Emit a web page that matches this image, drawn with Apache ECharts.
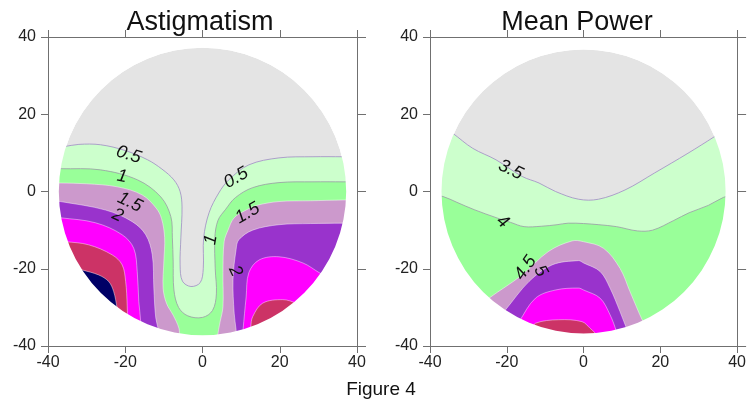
<!DOCTYPE html>
<html>
<head>
<meta charset="utf-8">
<script src="https://cdn.jsdelivr.net/npm/echarts@6/dist/echarts.min.js"></script>
<style>
  html, body { margin: 0; padding: 0; background: #fff; }
  #chart { width: 749px; height: 403px; }
</style>
</head>
<body>
<div id="chart"></div>
<script>
// contour levels and band colours (band k sits between level k-1 and level k)
const astigLevels = [0.5, 1, 1.5, 2, 2.5, 3, 3.5];
const powerLevels = [3.5, 4, 4.5, 5, 5.5, 6];
const bandColors = ['#e4e4e4', '#ccffcc', '#99ff99', '#cc99cc', '#9933cc', '#ff00ff', '#cc3366', '#000066'];

// contour lines, [x, y] in mm, higher side on the left of travel
const astig05 = [[38, 9], [36.4, 9], [28.6, 9], [19.8, 8.7], [12, 6.9], [6.8, 3], [4.2, -0.4], [1.7, -5.5], [0.3, -12], [0.2, -20], [-0.6, -23.6], [-3, -24.6], [-5.2, -23.2], [-5.8, -19], [-5.6, -12], [-5.3, -4], [-5.8, 0], [-7.4, 3], [-10.5, 5.8], [-14.2, 8.2], [-20, 10.6], [-26.4, 12.1], [-32, 12.2], [-36, 11.6], [-38, 11.5]];
const astig10 = [[39, 2.5], [36.4, 2.5], [28.6, 2.5], [19.8, 2.3], [13, 1], [8.5, -1.6], [6, -4.6], [4, -7.5], [3.2, -12], [3.3, -20], [3.6, -26.5], [2.6, -30.8], [0, -32.6], [-3.8, -32.2], [-6.2, -30], [-7.4, -25.5], [-7.6, -18], [-7.8, -12], [-8.2, -6.5], [-10.8, -1.4], [-16.8, 3], [-26.4, 5.6], [-36.8, 5.9], [-39, 5.9]];
const astig15L = [[-6, -37.5], [-6.1, -35.4], [-7.6, -32], [-9.3, -29], [-10.2, -25], [-10, -18], [-9.8, -12], [-10.6, -7], [-12, -4.3], [-15.6, -0.9], [-22, 1.2], [-30, 2], [-37, 2.2], [-39, 2.2]];
const astig15R = [[39, -2.2], [36.4, -2.2], [28, -2.4], [19.8, -2.6], [14, -3.6], [11.3, -4.8], [8.2, -6.8], [6.6, -10], [5.6, -13], [5.3, -21], [5.3, -29.8], [4.5, -34], [3.9, -37.5]];
const astig20L = [[-11.3, -37.5], [-11.3, -36.3], [-12.1, -32.7], [-12.6, -25], [-13, -16.4], [-14.7, -11.2], [-18.2, -7.8], [-25.1, -4.8], [-36.8, -2.6], [-39, -2.4]];
const astig20R = [[39, -8.2], [36.4, -8.2], [28, -8.3], [19.8, -8.6], [13, -10], [9.4, -12.5], [8.7, -15], [7.9, -22.8], [8.2, -31.5], [8.7, -35.8], [8.8, -37.5]];
const astig25L = [[-16.2, -36], [-16, -33.7], [-16.5, -28.5], [-16.9, -20.7], [-17.8, -14.7], [-20.8, -11.2], [-27.7, -8.1], [-36.8, -6.8], [-39, -6.7]];
const astig25R = [[32, -22], [30.2, -21], [26, -18.5], [19.8, -16.9], [14.7, -17.7], [12, -21], [11.3, -27.3], [10.5, -35.8], [10.4, -38]];
const astig30L = [[-19.5, -33], [-19.5, -29.4], [-19.9, -23.3], [-20.8, -19], [-23.4, -16.4], [-29.5, -13.8], [-35.5, -13], [-38, -13]];
const astig30R = [[26, -30], [24.2, -28.9], [20.8, -28], [15.6, -28.9], [13, -32.4], [12.5, -35], [12.4, -37.5]];
const astig35L = [[-21.8, -32], [-22.1, -30.2], [-23, -25.9], [-24.3, -23.3], [-26.9, -21.6], [-31.2, -20.3], [-33, -19.8]];

const power35 = [[36, 15.5], [34.1, 14.2], [27.2, 9.9], [18.5, 4.8], [10.8, 0.4], [3.9, -2], [-1.3, -2], [-7.3, 0], [-11.6, 2.2], [-16, 3.9], [-22.8, 8.2], [-28.9, 11.2], [-34.1, 15.1], [-36, 16.3]];
const power40 = [[39, -1], [36.5, -1.5], [32.5, -3.6], [27.5, -5.5], [23.5, -7.5], [18, -10], [14, -10.2], [8.6, -9.1], [4, -8.6], [0, -8.3], [-4, -8.2], [-6.9, -8.6], [-11, -9], [-15.5, -9.1], [-19, -8], [-22.4, -6.9], [-28.5, -4.7], [-33, -2.8], [-36.6, -1.3], [-39, -1]];
const power45 = [[16.5, -35], [15.5, -33.7], [12.1, -25.9], [9.5, -19.9], [5.2, -14.7], [0, -13], [-3, -12.8], [-9.1, -15.5], [-16, -21.6], [-24.6, -27.6], [-26, -29]];
const power50 = [[12, -37], [11.2, -35.4], [9.5, -31.1], [6.9, -25], [4.3, -20.7], [0, -18.5], [-1.3, -17.9], [-8.2, -19], [-14.2, -23.3], [-20.3, -30.6], [-21.5, -32]];
const power55 = [[9, -38], [8.6, -36.3], [6.9, -31.9], [4.3, -27.6], [0, -25.5], [-1.3, -25], [-7.3, -25.5], [-12.5, -27.6], [-16.8, -33.7], [-17.5, -35]];
const power60 = [[3.6, -38], [3.4, -37.1], [1.7, -35.4], [-0.4, -33.7], [-6.5, -33.2], [-12.5, -34.1], [-13.5, -36]];

// contour labels: text, x, y, angle (deg)
const astigLabels = [['0.5', -19.1, 9.5, -18], ['1', -20.8, 3.9, -10], ['1.5', -18.8, -2.8, -25], ['2', -22, -6.2, -25],
  ['0.5', 8.7, 3.5, 30], ['1.5', 11.7, -5.6, 30], ['1', 2.2, -12.5, 80], ['2', 8.5, -20.6, -65]];
const powerLabels = [['3.5', -19, 5.6, -25], ['4', -21.1, -7.8, -40], ['4.5', -15.1, -19.8, 55], ['5', -11.2, -20.6, -60]];

const astigPieces = [[0, astig05], [1, astig10], [2, astig15L], [2, astig15R], [3, astig20L], [3, astig20R],
  [4, astig25L], [4, astig25R], [5, astig30L], [5, astig30R], [6, astig35L]];
const powerPieces = [[0, power35], [1, power40], [2, power45], [3, power50], [4, power55], [5, power60]];

const FONT = '"Liberation Sans", Arial, sans-serif';

// close a contour piece around the outside of the disc (r = 39, hidden by the mask)
function closeRegion(pts) {
    const out = pts.slice();
    const s = pts[0], e = pts[pts.length - 1];
    const a0 = Math.atan2(e[1], e[0]);
    let a1 = Math.atan2(s[1], s[0]);
    while (a1 < a0) a1 += 2 * Math.PI;
    for (let a = a0; a < a1; a += 0.05) out.push([39 * Math.cos(a), 39 * Math.sin(a)]);
    out.push([39 * Math.cos(a1), 39 * Math.sin(a1)]);
    return out;
}

function lineColor(k) {
    if (k === 0) return '#a08cc4';
    if (k === 1) return '#9a9aa6';
    return 'rgba(255,255,255,0.55)';
}

function makeRender(pieces, labels, radius) {
    return function (params, api) {
        const c = api.coord([0, 0]);
        const r = api.size([radius, 0])[0];
        const tl = api.coord([-40, 40]);
        const br = api.coord([40, -40]);
        const children = [];
        children.push({ type: 'circle', shape: { cx: c[0], cy: c[1], r: r }, style: { fill: bandColors[0] } });
        pieces.forEach(function (p) {
            const pts = closeRegion(p[1]).map(function (d) { return api.coord(d); });
            children.push({
                type: 'polygon',
                shape: { points: pts, smooth: 0.35 },
                style: { fill: bandColors[p[0] + 1], stroke: lineColor(p[0]), lineWidth: 0.8 }
            });
        });
        const mask = 'M' + tl[0] + ' ' + tl[1] + ' L' + br[0] + ' ' + tl[1] + ' L' + br[0] + ' ' + br[1] +
            ' L' + tl[0] + ' ' + br[1] + ' Z M' + (c[0] + r) + ' ' + c[1] +
            ' A' + r + ' ' + r + ' 0 1 0 ' + (c[0] - r) + ' ' + c[1] +
            ' A' + r + ' ' + r + ' 0 1 0 ' + (c[0] + r) + ' ' + c[1] + ' Z';
        children.push({ type: 'path', shape: { pathData: mask }, style: { fill: '#fff' } });
        labels.forEach(function (l) {
            const p = api.coord([l[1], l[2]]);
            children.push({
                type: 'text', x: p[0], y: p[1], rotation: l[3] * Math.PI / 180,
                style: { text: l[0], align: 'center', verticalAlign: 'middle', font: 'italic 18px ' + FONT, fill: '#111' }
            });
        });
        return { type: 'group', children: children };
    };
}

function xAx(grid, pos) {
    return {
        gridIndex: grid, type: 'value', position: pos, min: -40, max: 40, interval: 20, z: 5,
        axisLine: { onZero: false, lineStyle: { color: '#707070', width: 1 } },
        axisTick: { inside: false, length: 7, lineStyle: { color: '#707070' } },
        axisLabel: { show: pos === 'bottom', margin: 9, fontSize: 16, color: '#222', fontFamily: FONT },
        splitLine: { show: false }
    };
}
function yAx(grid, pos) {
    return {
        gridIndex: grid, type: 'value', position: pos, min: -40, max: 40, interval: 20, z: 5,
        axisLine: { onZero: false, lineStyle: { color: '#707070', width: 1 } },
        axisTick: { inside: false, length: pos === 'left' ? 7 : 9, lineStyle: { color: '#707070' } },
        axisLabel: { show: pos === 'left', margin: 12, fontSize: 16, color: '#222', fontFamily: FONT },
        splitLine: { show: false }
    };
}

const chart = echarts.init(document.getElementById('chart'));
chart.setOption({
    animation: false,
    backgroundColor: '#fff',
    grid: [
        { left: 48, top: 37, width: 309, height: 309 },
        { left: 430, top: 37, width: 309, height: 309 }
    ],
    xAxis: [xAx(0, 'bottom'), xAx(0, 'top'), xAx(1, 'bottom'), xAx(1, 'top')],
    yAxis: [yAx(0, 'left'), yAx(0, 'right'), yAx(1, 'left'), yAx(1, 'right')],
    graphic: [
        { type: 'text', x: 200, y: 23, z: 10, style: { text: 'Astigmatism', align: 'center', verticalAlign: 'middle', font: '27px ' + FONT, fill: '#111' } },
        { type: 'text', x: 577, y: 23, z: 10, style: { text: 'Mean Power', align: 'center', verticalAlign: 'middle', font: '27px ' + FONT, fill: '#111' } },
        { type: 'text', x: 381, y: 390, z: 10, style: { text: 'Figure 4', align: 'center', verticalAlign: 'middle', font: '19px ' + FONT, fill: '#111' } }
    ],
    series: [
        {
            type: 'custom', xAxisIndex: 0, yAxisIndex: 0, data: [[0, 0]], silent: true,
            renderItem: makeRender(astigPieces, astigLabels, 37.2)
        },
        {
            type: 'custom', xAxisIndex: 2, yAxisIndex: 2, data: [[0, 0]], silent: true,
            renderItem: makeRender(powerPieces, powerLabels, 37)
        }
    ]
});
</script>
</body>
</html>
